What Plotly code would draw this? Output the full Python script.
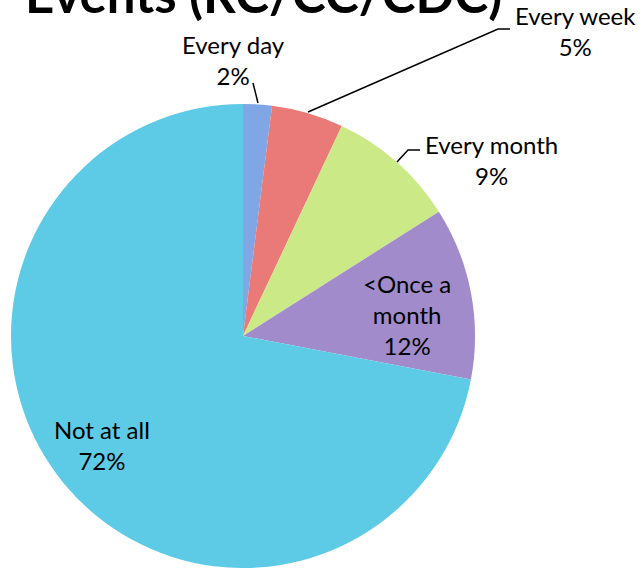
import plotly.graph_objects as go

# ---- data ----
categories = ["Every day", "Every week", "Every month", "<Once a month", "Not at all"]
values = [2, 5, 9, 12, 72]
slice_colors = ["#80a6e6", "#e97a77", "#cce988", "#a28bcb", "#5ecbe6"]
title_text = "Events (RC/CC/CDC)"

W, H = 641, 568
cx, cy, r = 243, 336, 232  # pie geometry in pixels


def px(x):
    return x / W


def py(y):
    return 1 - y / H


fig = go.Figure(
    go.Pie(
        labels=categories,
        values=values,
        sort=False,
        direction="clockwise",
        rotation=0,
        marker=dict(colors=slice_colors, line=dict(width=0)),
        textinfo="none",
        hoverinfo="label+percent",
        showlegend=False,
        domain=dict(x=[px(cx - r), px(cx + r)], y=[py(cy + r), py(cy - r)]),
    )
)

font = dict(family="Lato, 'Open Sans', sans-serif", size=24, color="#000000")

label_text = [
    "Every day",
    "Every week",
    "Every month",
    "&lt;Once a<br>month",
    "Not at all",
]
label_pos = [(233, 60), (575, 31), (491, 160), (407, 314), (102, 445)]

for txt, v, (x, y) in zip(label_text, values, label_pos):
    fig.add_annotation(
        x=px(x), y=py(y), xref="paper", yref="paper",
        text=f"{txt}<br>{v}%",
        showarrow=False, font=font, align="center",
        xanchor="center", yanchor="middle",
    )

# leader lines
leaders = [
    [(253, 83), (258, 103)],
    [(510, 29), (498, 29), (308, 112)],
    [(420, 150), (408, 150), (397, 162)],
]
for pts in leaders:
    path = "M " + " L ".join(f"{px(x)},{py(y)}" for x, y in pts)
    fig.add_shape(type="path", path=path, xref="paper", yref="paper",
                  line=dict(color="#000000", width=1.5))

fig.add_annotation(
    x=px(263), y=py(-6), xref="paper", yref="paper",
    text=f"<b>{title_text}</b>", showarrow=False,
    font=dict(family="Lato, sans-serif", size=51, color="#000000"),
    xanchor="center", yanchor="middle",
)

fig.update_layout(
    width=W, height=H,
    margin=dict(l=0, r=0, t=0, b=0),
    paper_bgcolor="#ffffff",
    plot_bgcolor="#ffffff",
)

fig.write_html(
    "out.html",
    config={"displayModeBar": False},
    post_script="document.body.style.margin='0';",
)
